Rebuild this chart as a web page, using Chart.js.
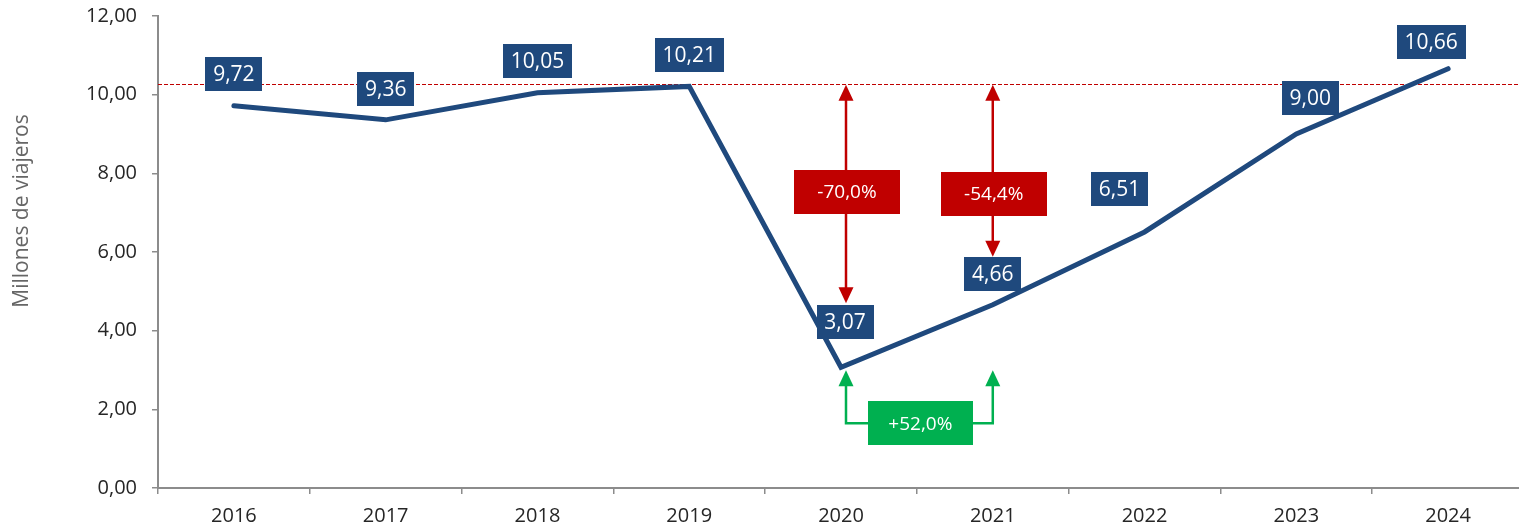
<!DOCTYPE html>
<html lang="es">
<head>
<meta charset="utf-8">
<script src="https://cdn.jsdelivr.net/npm/chart.js@4.4.1/dist/chart.umd.min.js"></script>
<style>
  html, body { margin: 0; padding: 0; background: #fff; overflow: hidden; }
  #wrap { width: 1524px; height: 528px; }
</style>
</head>
<body>
<div id="wrap"><canvas id="viajerosChart" width="1524" height="528"></canvas></div>
<script>
// Datos
const years = ['2016', '2017', '2018', '2019', '2020', '2021', '2022', '2023', '2024'];
const viajeros = [9.72, 9.36, 10.05, 10.21, 3.07, 4.66, 6.51, 9.00, 10.66];
const yTickValues = [0, 2, 4, 6, 8, 10, 12];
const refLevel = 10.28;          // linea discontinua (nivel 2019)
const dropLabels = ['-70,0%', '-54,4%'];
const recoveryLabel = '+52,0%';

const NAVY = '#1F497D';
const RED = '#C00000';
const GREEN = '#00B050';
const FONT = '"Open Sans", "Liberation Sans", sans-serif';

// desplazamiento (px) de cada etiqueta respecto a su punto
const labelShift = [[0, -32], [0, -31], [0, -32], [0, -31], [4, -45], [0, -31], [-25, -43], [14, -36], [-17, -27]];

const fmt = v => v.toFixed(2).replace('.', ',');

function arrowHead(ctx, x, y, dir, color) {
    // dir = -1 apunta arriba, 1 apunta abajo; (x, y) es la punta
    ctx.fillStyle = color;
    ctx.beginPath();
    ctx.moveTo(x, y);
    ctx.lineTo(x - 7.5, y - dir * 16);
    ctx.lineTo(x + 7.5, y - dir * 16);
    ctx.closePath();
    ctx.fill();
}

function textBox(ctx, cx, cy, w, h, color, text, font) {
    ctx.fillStyle = color;
    ctx.fillRect(Math.round(cx - w / 2), Math.round(cy - h / 2), w, h);
    ctx.fillStyle = '#fff';
    ctx.font = font;
    ctx.textAlign = 'center';
    ctx.textBaseline = 'middle';
    ctx.fillText(text, cx, cy + 1);
}

// Linea de referencia discontinua (por debajo de la serie)
const refLinePlugin = {
    id: 'refLine',
    beforeDatasetsDraw(chart) {
        const { ctx, chartArea, scales } = chart;
        const y = Math.round(scales.y.getPixelForValue(refLevel)) + 0.5;
        ctx.save();
        ctx.strokeStyle = RED;
        ctx.lineWidth = 1;
        ctx.setLineDash([4, 2]);
        ctx.beginPath();
        ctx.moveTo(chartArea.left, y);
        ctx.lineTo(chart.width, y);
        ctx.stroke();
        ctx.restore();
    }
};

// Etiquetas, flechas y titulo del eje
const annotationsPlugin = {
    id: 'annotations',
    afterDatasetsDraw(chart) {
        const { ctx, scales } = chart;
        const x = scales.x, y = scales.y;
        const labelFont = '21px ' + FONT;
        ctx.save();

        // etiquetas de valor
        viajeros.forEach((v, i) => {
            const text = fmt(v);
            ctx.font = labelFont;
            const w = Math.round(ctx.measureText(text).width + 16);
            const cx = x.getPixelForValue(i) + labelShift[i][0];
            const cy = y.getPixelForValue(v) + labelShift[i][1];
            textBox(ctx, cx, cy, w, 34, NAVY, text, labelFont);
        });

        // flechas rojas de caida
        const refY = y.getPixelForValue(refLevel) + 1;
        const drops = [
            { x: x.getPixelForValue(4) + 5, tip: y.getPixelForValue(viajeros[4]) - 64, box: 192 },
            { x: x.getPixelForValue(5), tip: y.getPixelForValue(viajeros[5]) - 48, box: 193.5 }
        ];
        drops.forEach((d, i) => {
            ctx.strokeStyle = RED;
            ctx.lineWidth = 2.5;
            ctx.beginPath();
            ctx.moveTo(d.x, refY + 14);
            ctx.lineTo(d.x, d.tip - 14);
            ctx.stroke();
            arrowHead(ctx, d.x, refY, -1, RED);
            arrowHead(ctx, d.x, d.tip, 1, RED);
            textBox(ctx, d.x + 1, d.box, 106, 44, RED, dropLabels[i], '19px ' + FONT);
        });

        // flecha verde de recuperacion
        const gx1 = x.getPixelForValue(4) + 5;
        const gx2 = x.getPixelForValue(5);
        const gTip = y.getPixelForValue(viajeros[4]) + 3;
        const gBase = gTip + 53;
        ctx.strokeStyle = GREEN;
        ctx.lineWidth = 2.5;
        ctx.beginPath();
        ctx.moveTo(gx1, gTip + 14);
        ctx.lineTo(gx1, gBase);
        ctx.lineTo(gx2, gBase);
        ctx.lineTo(gx2, gTip + 14);
        ctx.stroke();
        arrowHead(ctx, gx1, gTip, -1, GREEN);
        arrowHead(ctx, gx2, gTip, -1, GREEN);
        textBox(ctx, (gx1 + gx2) / 2 + 1, gBase, 105, 44, GREEN, recoveryLabel, '19px ' + FONT);

        // titulo del eje Y
        ctx.translate(22, 211);
        ctx.rotate(-Math.PI / 2);
        ctx.fillStyle = '#666666';
        ctx.font = '21px ' + FONT;
        ctx.textAlign = 'center';
        ctx.textBaseline = 'middle';
        ctx.fillText('Millones de viajeros', 0, 0);
        ctx.restore();
    }
};

function initializeChart() {
    const ctx = document.getElementById('viajerosChart').getContext('2d');
    new Chart(ctx, {
        type: 'line',
        data: {
            labels: years,
            datasets: [{
                label: 'Millones de viajeros',
                data: viajeros,
                borderColor: NAVY,
                borderWidth: 5,
                borderCapStyle: 'round',
                borderJoinStyle: 'miter',
                pointRadius: 0,
                tension: 0,
                fill: false
            }]
        },
        options: {
            responsive: false,
            animation: false,
            devicePixelRatio: 1,
            layout: { padding: { top: 16, right: 0, left: 0, bottom: 0 } },
            plugins: {
                legend: { display: false },
                tooltip: { enabled: false }
            },
            scales: {
                x: {
                    offset: true,
                    grid: {
                        offset: true,
                        drawOnChartArea: false,
                        tickLength: 6,
                        color: '#8C8C8C',
                        lineWidth: 1.5
                    },
                    border: { color: '#8C8C8C', width: 2 },
                    ticks: {
                        color: '#262626',
                        font: { family: FONT, size: 20 },
                        padding: 10,
                        maxRotation: 0
                    },
                    afterFit(scale) {
                        scale.height = 40;
                        scale.paddingLeft = 0;
                        scale.paddingRight = 0;
                    }
                },
                y: {
                    min: 0,
                    max: 12,
                    afterBuildTicks(scale) {
                        scale.ticks = yTickValues.map(v => ({ value: v }));
                    },
                    grid: {
                        drawOnChartArea: false,
                        tickLength: 6,
                        color: '#8C8C8C',
                        lineWidth: 1.5
                    },
                    border: { color: '#8C8C8C', width: 2 },
                    ticks: {
                        color: '#262626',
                        font: { family: FONT, size: 20 },
                        padding: 15,
                        callback: v => fmt(v)
                    },
                    afterFit(scale) {
                        scale.width = 158;
                        scale.paddingTop = 0;
                        scale.paddingBottom = 0;
                    }
                }
            }
        },
        plugins: [refLinePlugin, annotationsPlugin]
    });
}

document.addEventListener('DOMContentLoaded', initializeChart);
</script>
</body>
</html>
